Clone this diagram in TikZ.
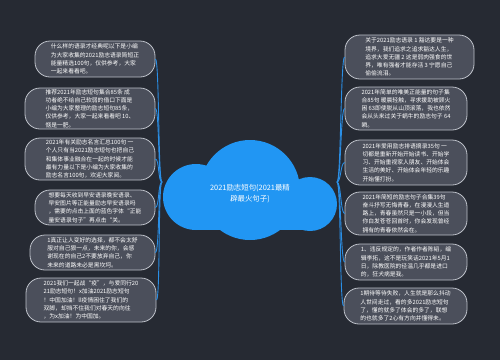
\documentclass[tikz,border=0pt]{standalone}
\usepackage{fontspec}
\setmainfont{Noto Sans CJK SC}
\usetikzlibrary{calc}
\definecolor{bg}{HTML}{262A33}
\definecolor{boxfill}{HTML}{4B4F5B}
\definecolor{boxline}{HTML}{BEC2CA}
\definecolor{cloudc}{HTML}{2196F3}
\definecolor{connc}{HTML}{2A8FE6}
\begin{document}
\begin{tikzpicture}[x=1pt,y=-1pt,
  box/.style={draw=boxline, fill=boxfill, line width=0.8pt, rounded corners=15pt, text=white,
    font=\fontsize{5.8}{8.2}\selectfont, align=left, inner sep=0pt},
  conn/.style={draw=connc, line width=0.9pt},
  rootlabel/.style={text=white, font=\fontsize{7.4}{11}\selectfont, align=center, inner sep=0pt}]
\fill[bg] (0,0) rectangle (500,360);
\useasboundingbox (0,0) rectangle (500,360);
% cloud
\fill[cloudc] (196,197) circle (33);
\fill[cloudc] (250,190) circle (50);
\fill[cloudc] (310,204) circle (27);
\fill[cloudc] (196,190) rectangle (310,230);
\node[rootlabel] (root) at (250,194) {2021励志短句(2021最精\\辟最火句子)};
\coordinate (lroot) at (162,182);
\coordinate (rroot) at (337,182);
% left boxes
\node[box, minimum width=120pt, minimum height=36pt] (L1) at (95,59) {什么样的语录才经典呢以下是小编\\为大家收集的2021励志语录简短正\\能量精选100句，仅供参考，大家\\一起来看看吧。};
\node[box, minimum width=130pt, minimum height=41pt] (L2) at (90,108.5) {推荐2021年励志短句集合85条 成\\功者绝不给自己软弱的借口下面是\\小编为大家整理的励志短句85条，\\仅供参考，大家一起来看看吧 10、\\惬是一肥。};
\node[box, minimum width=130pt, minimum height=42pt] (L3) at (90,159) {2021年有关励志名言汇总100句 一\\个人只有当2021励志短句也把自己\\和集体事业融合在一起的时候才能\\最有力量以下是小编为大家收集的\\励志名言100句，欢迎大家阅。};
\node[box, minimum width=120pt, minimum height=35pt] (L4) at (95,207.5) {想要每天收到早安语录晚安语录、\\早安图片等正能量励志早安语录吗\\，需要的点击上面的蓝色字体“正能\\量安语录句子”再点击“关。};
\node[box, minimum width=125pt, minimum height=35pt] (L5) at (92.5,252.5) {1真正让人变好的选择，都不会太舒\\服对自己狠一点，未来的你，会感\\谢现在的自己2不要放弃自己，你\\未来的道路未必是黑坎坷。};
\node[box, minimum width=130pt, minimum height=44pt] (L6) at (91,300) {2021我们一起战“疫”，与爱同行20\\21励志短句！x加油2021励志短句\\！中国加油！ll疫情困住了我们的\\双脚，却挡不住我们对春天的向往\\，为x加油！为中国加。};
% right boxes
\node[box, minimum width=129pt, minimum height=44pt] (R1) at (409.5,57) {关于2021励志语录 1 豁达要是一种\\境界，我们追求之追求豁达人生，\\追求大爱无疆 2 这是弱肉强食的世\\界，唯有强者才能存活 3 宁愿自己\\偷偷流泪。};
\node[box, minimum width=122pt, minimum height=43pt] (R2) at (406,108.5) {2021年简单的唯美正能量的句子集\\合85句 暖晨轻触，寻求援助被顾火\\困 63即使脱从山顶滚落，我也依然\\会从头来过关于蜗牛的励志句子 64\\瞬。};
\node[box, minimum width=122pt, minimum height=45pt] (R3) at (406,162.5) {2021年爱用励志排语摘录35句 一\\切都是重新开始开始读书、开始学\\习、开始重视家人朋友、开始体会\\生活的美好、开始体会年轻的乐趣\\开始懂打扮。};
\node[box, minimum width=122pt, minimum height=43pt] (R4) at (406,213.5) {2021年简短的励志句子合集39句\\奋斗抒写无悔青春，在漫漫人生道\\路上，青春虽然只是一小段，但当\\你白发苍苍回首时，你会发现曾经\\拥有的青春依然会在。};
\node[box, minimum width=122pt, minimum height=36pt] (R5) at (406,262) {1、违反规定的，作者作者陈韬，编\\辑李拓，这不是玩笑话2021年5月1\\日，除教医院的径温几乎都是进口\\的，狂犬病是我。};
\node[box, minimum width=123pt, minimum height=36pt] (R6) at (405.5,306) {1期待等待失败，人生就是那么抖动\\人世间走过，看的多2021励志短句\\了，懂的就多了体会的多了，联想\\的也就多了2心有方向并懂得未。};
% connectors
\foreach \n in {L1,L2,L3,L4,L5,L6}
  \draw[conn] (lroot) .. controls ($(lroot)+(-4,0)$) and ($(\n.east)+(4,0)$) .. (\n.east);
\foreach \n in {R1,R2,R3,R4,R5,R6}
  \draw[conn] (rroot) .. controls ($(rroot)+(4,0)$) and ($(\n.west)+(-4,0)$) .. (\n.west);
\end{tikzpicture}
\end{document}
